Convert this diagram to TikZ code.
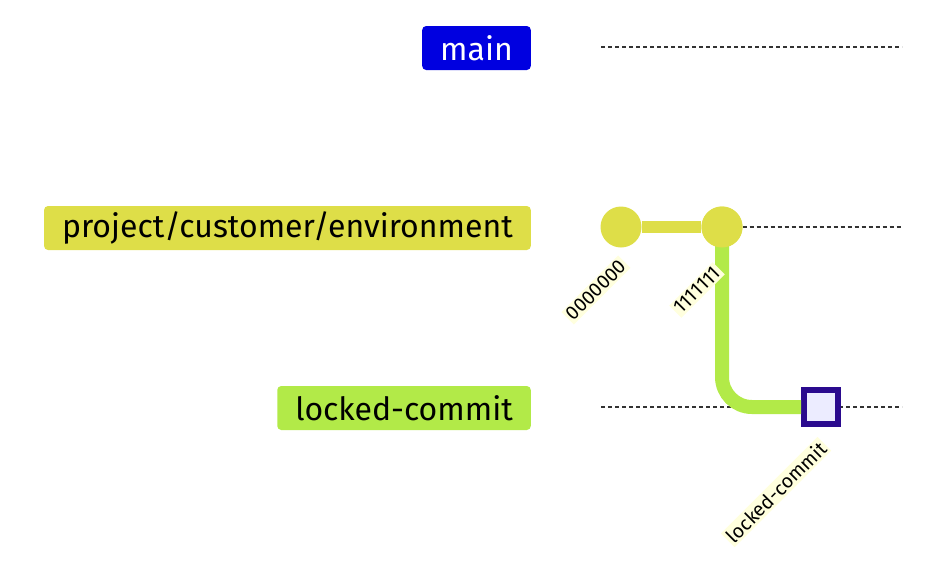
\documentclass[tikz,border=0pt]{standalone}
\usepackage{fontspec}
\setmainfont{Fira Sans}
\definecolor{mainb}{HTML}{0000E0}
\definecolor{yel}{HTML}{DEDE48}
\definecolor{grn}{HTML}{B2EA48}
\definecolor{pur}{HTML}{2A0A8E}
\definecolor{lav}{HTML}{ECECFF}
\definecolor{lblbg}{HTML}{FFFFDE}
\tikzset{x=1pt,y=-1pt,
 br/.style={rounded corners=4pt,minimum height=44pt,inner xsep=18pt,font=\fontsize{32}{35}\selectfont,anchor=east},
 gl/.style={dash pattern=on 4pt off 3pt,line width=1.3pt,black!80},
 cl/.style={fill=lblbg,rotate=45,font=\fontsize{19.5}{21}\selectfont,inner sep=2pt},
 cmt/.style={circle,fill=yel,minimum size=41pt,inner sep=0pt}}
\begin{document}
\begin{tikzpicture}
\useasboundingbox (0,0) rectangle (946,566);
\node[br,fill=mainb,text=white] (bmain) at (531,48) {main};
\node[br,fill=yel] (bproj) at (531,228) {project/customer/environment};
\node[br,fill=grn] (block) at (531,408) {locked-commit};
\coordinate (m1) at (601,47); \coordinate (m2) at (902,47);
\coordinate (l1) at (601,407); \coordinate (l2) at (902,407);
\coordinate (p2) at (902,227);
\draw[gl] (m1) -- (m2);
\draw[gl] (l1) -- (l2);
\node[cmt] (c0) at (621,227) {};
\node[cmt] (c1) at (722,227) {};
\draw[gl] (c1) -- (p2);
\draw[yel,line width=12pt] (c0) -- (c1);
\node[draw=pur,line width=6pt,fill=lav,minimum size=34pt,inner sep=0pt] (lc) at (821,407) {};
\draw[grn,line width=14pt,rounded corners=30pt] (c1.center) -- (722,407) -- (lc.west);
\node[cmt] (c1b) at (722,227) {};
\node[cl] (t0) at (596,290) {0000000};
\node[cl] (t1) at (697,290) {1111111};
\node[cl] (t2) at (776,492) {locked-commit};
\end{tikzpicture}
\end{document}
